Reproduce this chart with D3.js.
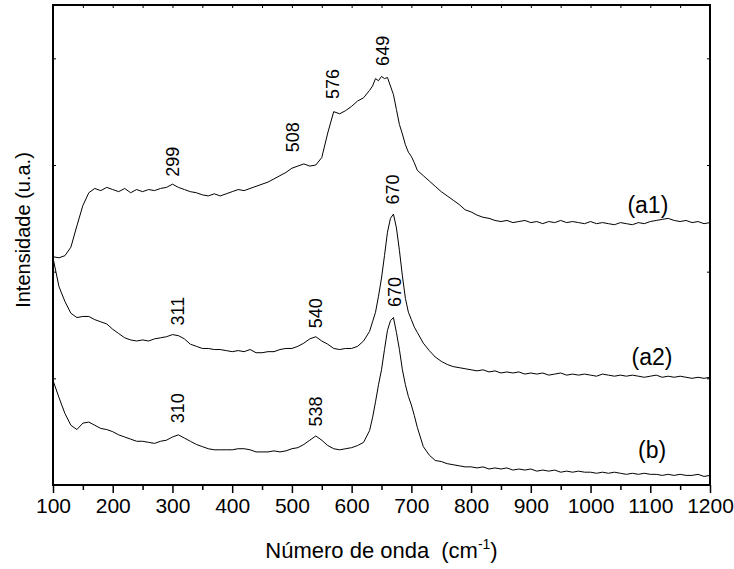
<!DOCTYPE html>
<html>
<head>
<meta charset="utf-8">
<script src="https://cdn.jsdelivr.net/npm/d3@7"></script>
<style>
  body { margin: 0; background: #fff; }
  text { font-family: "Liberation Sans", Arial, sans-serif; fill: #000; }
</style>
</head>
<body>
<div id="chart"></div>
<script>
// numero de onda (cm-1), grade comum aos tres espectros
var wavenumber = [100,110,120,130,140,150,160,170,180,190,200,210,220,230,240,250,260,270,280,290,
  300,310,320,330,340,350,360,370,380,390,400,410,420,430,440,450,460,470,480,490,
  500,510,520,530,540,550,560,570,580,590,600,610,620,630,
  635,640,645,650,655,660,665,670,675,680,685,690,695,700,705,710,
  720,730,740,750,760,770,780,790,800,810,820,830,840,850,860,870,880,890,900,910,
  920,930,940,950,960,970,980,990,1000,1010,1020,1030,1040,1050,1060,1070,1080,1090,1100,1110,
  1120,1130,1140,1150,1160,1170,1180,1190,1200];

var a1 = [2.14,2.13,2.15,2.23,2.43,2.62,2.74,2.78,2.76,2.79,2.77,2.75,2.78,2.74,2.77,2.75,2.77,2.76,2.78,2.79,
  2.82,2.79,2.77,2.75,2.74,2.72,2.71,2.73,2.71,2.73,2.75,2.77,2.76,2.78,2.80,2.82,2.84,2.87,2.90,2.93,
  2.97,2.99,3.01,2.99,3.00,3.07,3.30,3.50,3.48,3.51,3.55,3.60,3.63,3.70,
  3.74,3.81,3.79,3.83,3.81,3.82,3.74,3.66,3.52,3.38,3.29,3.19,3.12,3.08,3.02,2.95,
  2.90,2.85,2.80,2.75,2.71,2.67,2.63,2.58,2.56,2.53,2.51,2.50,2.48,2.47,2.48,2.46,2.47,2.48,2.46,2.47,
  2.45,2.47,2.46,2.48,2.46,2.47,2.46,2.45,2.47,2.45,2.46,2.45,2.44,2.46,2.45,2.44,2.46,2.45,2.47,2.48,
  2.49,2.50,2.48,2.47,2.48,2.46,2.47,2.45,2.46];

var a2 = [2.13,1.86,1.72,1.61,1.57,1.58,1.58,1.55,1.53,1.51,1.46,1.42,1.38,1.36,1.35,1.36,1.35,1.37,1.38,1.39,
  1.41,1.40,1.37,1.32,1.30,1.28,1.28,1.27,1.27,1.26,1.25,1.26,1.25,1.27,1.24,1.24,1.25,1.25,1.27,1.28,
  1.28,1.30,1.33,1.37,1.39,1.35,1.32,1.28,1.27,1.28,1.28,1.30,1.35,1.44,
  1.53,1.62,1.77,1.94,2.15,2.37,2.50,2.54,2.41,2.20,1.96,1.75,1.62,1.55,1.48,1.43,
  1.33,1.26,1.20,1.16,1.13,1.11,1.10,1.09,1.08,1.07,1.08,1.06,1.07,1.05,1.06,1.05,1.06,1.04,1.05,1.04,
  1.05,1.03,1.04,1.05,1.03,1.04,1.03,1.04,1.03,1.02,1.04,1.03,1.02,1.03,1.02,1.03,1.02,1.01,1.02,1.03,
  1.01,1.02,1.01,1.02,1.01,1.00,1.01,1.00,1.01];

var b = [0.98,0.82,0.67,0.56,0.52,0.58,0.59,0.56,0.53,0.52,0.50,0.47,0.45,0.43,0.41,0.41,0.40,0.39,0.41,0.42,
  0.45,0.47,0.44,0.41,0.38,0.36,0.34,0.33,0.33,0.33,0.33,0.34,0.34,0.33,0.31,0.31,0.31,0.32,0.31,0.32,
  0.34,0.35,0.38,0.42,0.46,0.42,0.37,0.34,0.33,0.34,0.35,0.37,0.40,0.51,
  0.63,0.78,0.94,1.08,1.27,1.45,1.54,1.57,1.43,1.27,1.08,0.94,0.83,0.75,0.65,0.54,
  0.36,0.28,0.23,0.22,0.20,0.19,0.18,0.17,0.17,0.16,0.17,0.15,0.16,0.15,0.16,0.14,0.15,0.14,0.15,0.13,
  0.14,0.13,0.14,0.12,0.13,0.12,0.13,0.12,0.12,0.11,0.12,0.11,0.12,0.11,0.10,0.11,0.10,0.11,0.10,0.10,
  0.09,0.10,0.09,0.10,0.09,0.09,0.10,0.08,0.09];

// nomes das curvas e onde ficam
var seriesNames = ["(a1)", "(a2)", "(b)"];
var seriesLabelX = [1096, 1103, 1103];
var seriesLabelY = [2.63, 1.20, 0.33];

// picos marcados (texto vertical)
var peakText = ["299", "508", "576", "649", "670", "311", "540", "670", "310", "538"];
var peakX = [301, 502, 569, 652, 669, 309, 539, 672, 308, 539];
var peakY = [3.03, 3.26, 3.76, 4.07, 2.77, 1.63, 1.61, 1.81, 0.72, 0.69];

var xMajor = [100,200,300,400,500,600,700,800,900,1000,1100,1200];
var xMinor = [150,250,350,450,550,650,750,850,950,1050,1150];
var yTicks = [1, 2, 3, 4];

var svg_width = 734, svg_height = 569;
var m_left = 53, m_right = 710, m_top = 5, m_bottom = 485;

var svg = d3.select("#chart").append("svg")
    .attr("width", svg_width)
    .attr("height", svg_height);

var x = d3.scaleLinear().domain([100, 1200]).range([m_left, m_right]);
var y = d3.scaleLinear().domain([0, 4.5]).range([m_bottom, m_top]);

// eixo de baixo: principais com rotulo, secundarios curtos
svg.append("g")
    .attr("transform", "translate(0," + m_bottom + ")")
    .call(d3.axisBottom(x).tickValues(xMajor).tickSize(8).tickPadding(5).tickFormat(d3.format("d")))
    .call(function (g) {
        g.select(".domain").remove();
        g.selectAll("line").attr("stroke", "#000").attr("stroke-width", 1.5);
        g.selectAll("text").attr("font-size", "21px")
            .attr("font-family", "'Liberation Sans Narrow', 'Arial Narrow', sans-serif");
    });
svg.append("g")
    .attr("transform", "translate(0," + m_bottom + ")")
    .call(d3.axisBottom(x).tickValues(xMinor).tickSize(5).tickFormat(""))
    .call(function (g) {
        g.select(".domain").remove();
        g.selectAll("line").attr("stroke", "#000").attr("stroke-width", 1.5);
    });

// topo: tracinhos para dentro
svg.append("g")
    .attr("transform", "translate(0," + m_top + ")")
    .call(d3.axisBottom(x).tickValues(xMajor.concat(xMinor)).tickSize(3).tickFormat(""))
    .call(function (g) {
        g.select(".domain").remove();
        g.selectAll("line").attr("stroke", "#000");
    });

// esquerda e direita, sem rotulos
svg.append("g")
    .attr("transform", "translate(" + m_left + ",0)")
    .call(d3.axisRight(y).tickValues(yTicks).tickSize(3).tickFormat(""))
    .call(function (g) {
        g.select(".domain").remove();
        g.selectAll("line").attr("stroke", "#000");
    });
svg.append("g")
    .attr("transform", "translate(" + m_right + ",0)")
    .call(d3.axisLeft(y).tickValues(yTicks).tickSize(3).tickFormat(""))
    .call(function (g) {
        g.select(".domain").remove();
        g.selectAll("line").attr("stroke", "#000");
    });

// curvas
var line = d3.line()
    .x(function (d) { return x(d[0]); })
    .y(function (d) { return y(d[1]); });

[a1, a2, b].forEach(function (serie) {
    svg.append("path")
        .datum(d3.zip(wavenumber, serie))
        .attr("d", line)
        .attr("fill", "none")
        .attr("stroke", "#000")
        .attr("stroke-width", 1);
});

// moldura
svg.append("rect")
    .attr("x", m_left).attr("y", m_top)
    .attr("width", m_right - m_left).attr("height", m_bottom - m_top)
    .attr("fill", "none")
    .attr("stroke", "#000")
    .attr("stroke-width", 2);

// rotulos dos picos
peakText.forEach(function (t, i) {
    var px = x(peakX[i]), py = y(peakY[i]);
    svg.append("text")
        .attr("transform", "translate(" + px + "," + py + ") rotate(-90)")
        .attr("text-anchor", "middle")
        .attr("dy", "0.35em")
        .attr("font-size", "18px")
        .text(t);
});

// nomes das curvas
seriesNames.forEach(function (t, i) {
    svg.append("text")
        .attr("x", x(seriesLabelX[i]))
        .attr("y", y(seriesLabelY[i]))
        .attr("text-anchor", "middle")
        .attr("dy", "0.35em")
        .attr("font-size", "23px")
        .text(t);
});

// titulos dos eixos
var xt = svg.append("text")
    .attr("x", (m_left + m_right) / 2)
    .attr("y", 558)
    .attr("text-anchor", "middle")
    .attr("font-size", "22px");
xt.append("tspan").text("Número de onda");
xt.append("tspan").attr("dx", 12).text("(cm");
xt.append("tspan").attr("dy", -9).attr("font-size", "14px").text("-1");
xt.append("tspan").attr("dy", 9).text(")");

svg.append("text")
    .attr("transform", "translate(30," + ((m_top + m_bottom) / 2 - 15) + ") rotate(-90)")
    .attr("text-anchor", "middle")
    .attr("font-size", "20px")
    .text("Intensidade (u.a.)");
</script>
</body>
</html>
